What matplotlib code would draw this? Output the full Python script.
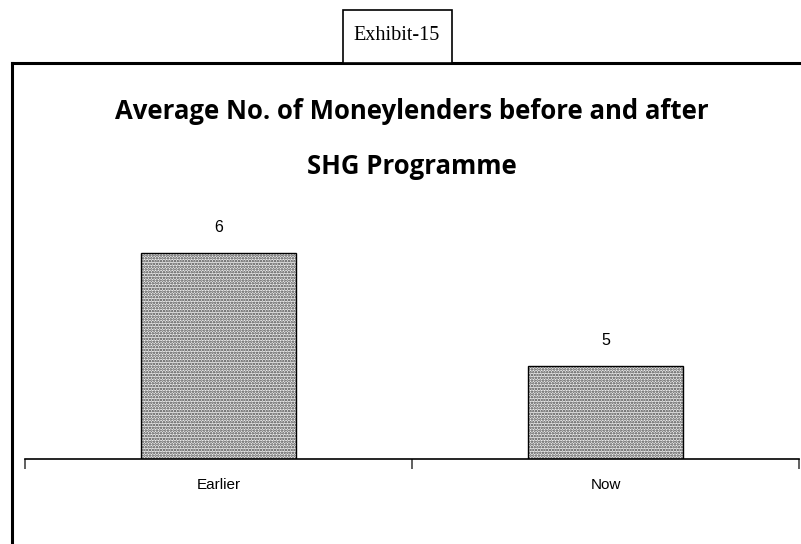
import matplotlib.pyplot as plt
from matplotlib.patches import Rectangle

# dados
categorias = ['Earlier', 'Now']
valores = [6, 5]
rotulos = ['6', '5']

fig = plt.figure(figsize=(8.01, 5.44), dpi=100)
W, H = 801, 544

# moldura externa (sem borda inferior, direita sai da imagem)
fig.add_artist(plt.Line2D([12 / W, 12 / W], [0, 1 - 63 / H], color='black', lw=2.2))
fig.add_artist(plt.Line2D([12 / W, 1], [1 - 63 / H, 1 - 63 / H], color='black', lw=2.2))

# caixa "Exhibit-15"
fig.add_artist(Rectangle((343 / W, 1 - 63 / H), (452 - 343) / W, (63 - 10) / H,
                         transform=fig.transFigure, facecolor='white',
                         edgecolor='black', lw=1.2, zorder=5))
fig.text(397 / W, 1 - 35 / H, 'Exhibit-15', family='Liberation Serif', fontsize=14.5,
         ha='center', va='center', zorder=6)

# título
fig.text(412 / W, 1 - 112 / H, 'Average No. of Moneylenders before and after',
         family='Open Sans', weight='bold', fontsize=18.5, ha='center', va='center')
fig.text(412 / W, 1 - 166 / H, 'SHG Programme',
         family='Open Sans', weight='bold', fontsize=18.5, ha='center', va='center')

# eixo
ax = fig.add_axes([25 / W, 1 - 459 / H, (799 - 25) / W, (459 - 220) / H])
plt.rcParams['hatch.linewidth'] = 1.2
x = range(len(categorias))
ax.bar(x, valores, width=0.4, color='#eeeeee', edgecolor='#444444',
       hatch='......', linewidth=0)
ax.bar(x, valores, width=0.4, color='none', edgecolor='black', linewidth=1.0)

base = 4.18
ax.set_ylim(base, 6 + (253 - 220) / 113.2)
ax.set_xlim(-0.5, 1.5)

for xi, v, r in zip(x, valores, rotulos):
    ax.annotate(r, (xi, v), xytext=(0, 13), textcoords='offset points',
                ha='center', va='bottom', family='Liberation Sans', fontsize=11.5)

for s in ['top', 'right', 'left']:
    ax.spines[s].set_visible(False)
ax.spines['bottom'].set_linewidth(1.2)
ax.set_yticks([])
ax.set_xticks([-0.5, 0.5, 1.5])
ax.set_xticklabels([])
ax.set_xticks(list(x), minor=True)
ax.set_xticklabels(categorias, minor=True, family='Liberation Sans', fontsize=11)
ax.tick_params(axis='x', which='major', length=7, width=1.2, color='#444444')
ax.tick_params(axis='x', which='minor', length=0, pad=14)

plt.savefig('out.png', dpi=100)
